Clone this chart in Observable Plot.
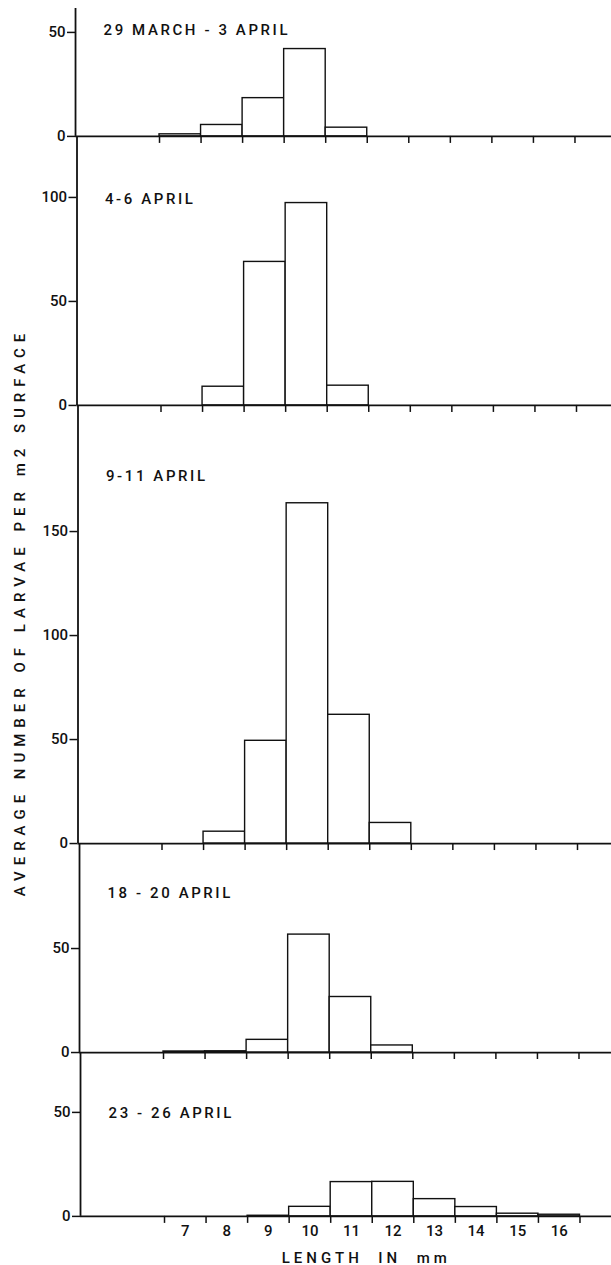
<!DOCTYPE html>
<html>
<head>
<meta charset="utf-8">
<script src="https://cdn.jsdelivr.net/npm/d3@7"></script>
<script src="https://cdn.jsdelivr.net/npm/@observablehq/plot@0.6"></script>
<style>
html, body { margin: 0; padding: 0; background: #fff; overflow: hidden; }
#chart { position: relative; width: 611px; height: 1265px; }
#chart svg { display: block; }
</style>
</head>
<body>
<div id="chart"></div>
<script>
// ---------- data ----------
const lengths = [7, 8, 9, 10, 11, 12, 13, 14, 15, 16];           // bin centres (mm)
const binEdges = [6.5, 7.5, 8.5, 9.5, 10.5, 11.5, 12.5, 13.5, 14.5, 15.5, 16.5];
const periods = ["29 MARCH - 3 APRIL", "4-6 APRIL", "9-11 APRIL", "18 - 20 APRIL", "23 - 26 APRIL"];
const march29_apr3 = [1, 5.5, 18.4, 42, 4.2, 0, 0, 0, 0, 0];
const apr4_6       = [0, 9, 69, 97.3, 9.5, 0, 0, 0, 0, 0];
const apr9_11      = [0, 5.7, 49.4, 163.6, 61.9, 9.9, 0, 0, 0, 0];
const apr18_20     = [0.5, 0.6, 6.1, 56.7, 26.7, 3.4, 0, 0, 0, 0];
const apr23_26     = [0, 0, 0.3, 4.6, 16.5, 16.6, 8.3, 4.5, 1.3, 0.8];
const yTicks = [[0, 50], [0, 50, 100], [0, 50, 100, 150], [0, 50], [0, 50]];
const yTop = [61.5, 129.3, 210.6, 100.5, 78.8];                    // top of each panel's axis
const xLabel = "LENGTH  IN  mm";
const yLabel = "AVERAGE NUMBER OF LARVAE PER m2 SURFACE";

const series = [march29_apr3, apr4_6, apr9_11, apr18_20, apr23_26];

// ---------- layout ----------
const W = 611, pxPerUnit = 2.08, pxPerMm = 41.55;
const axisX = 80, firstEdgeX = 164;
const skew = [-5, -3.5, -2.5, -1, 0];          // slight tilt of the scanned figure
const labelDy = [22, 63, 71, 50, 61];
const font = "Roboto, 'DejaVu Sans', sans-serif";
const ink = "#111";

const chart = document.getElementById("chart");

series.forEach((vals, i) => {
  const s = skew[i];
  const ml = axisX + s;
  const x0 = binEdges[0] - (firstEdgeX - axisX) / pxPerMm;
  const x1 = binEdges[0] + (W - firstEdgeX - s) / pxPerMm;
  const frameH = yTop[i] * pxPerUnit;
  const mt = i === 0 ? 8 : 0;
  const mb = i === series.length - 1 ? 49 : 8;
  const rows = lengths.map((len, j) => ({len, value: vals[j]})).filter(d => d.value > 0);

  const marks = [
    Plot.rect(rows, {x1: d => d.len - 0.5, x2: d => d.len + 0.5, y1: d => 0, y2: d => d.value,
      fill: "white", stroke: ink, strokeWidth: 1.4}),
    Plot.ruleY([0], {stroke: ink, strokeWidth: 1.8}),
    Plot.ruleX([x0], {stroke: ink, strokeWidth: 1.8}),
    Plot.text([periods[i]], {text: d => d, frameAnchor: "top-left", dx: 28, dy: labelDy[i],
      textAnchor: "start", lineAnchor: "middle", fontSize: 15, fontWeight: 500, fill: ink})
  ];

  if (i === 2) {
    marks.push(Plot.text([yLabel], {text: d => d, frameAnchor: "left", rotate: -90,
      textAnchor: "middle", lineAnchor: "middle",
      dx: 19.5 - ml, dy: -12.5, fontSize: 15, fontWeight: 500, fill: ink}));
  }
  if (i === series.length - 1) {
    marks.push(Plot.text(lengths, {x: d => d, text: d => String(d), frameAnchor: "bottom",
      dy: 15, lineAnchor: "middle", fontSize: 15, fontWeight: 500, fill: ink}));
    const mid = (binEdges[0] + binEdges[binEdges.length - 1]) / 2;
    marks.push(Plot.text([xLabel], {x: () => mid, text: d => d, frameAnchor: "bottom",
      dy: 42, dx: -6, lineAnchor: "middle", fontSize: 15, fontWeight: 500, fill: ink}));
  }

  const svg = Plot.plot({
    width: W,
    height: mt + frameH + mb,
    marginLeft: ml, marginRight: 0, marginTop: mt, marginBottom: mb,
    style: {fontFamily: font, fontSize: "15px", fontWeight: 500, background: "transparent", overflow: "visible", color: ink},
    x: {domain: [x0, x1], ticks: binEdges, tickSize: 7, tickFormat: () => "", label: null},
    y: {domain: [0, yTop[i]], ticks: yTicks[i], tickSize: 8, tickPadding: 2, tickFormat: d => String(d), label: null},
    marks
  });
  if (i > 0) svg.style.marginTop = `-${8}px`;

  d3.select(svg).selectAll('[aria-label^="x-axis"], [aria-label^="y-axis"]').attr("stroke-width", 1.5);
  d3.select(svg).selectAll("text").each(function () {
    const t = this.textContent;
    if (periods.includes(t)) this.setAttribute("letter-spacing", "2.6");
    else if (t === yLabel) this.setAttribute("letter-spacing", "6");
    else if (t === xLabel) this.setAttribute("letter-spacing", "4");
  });
  chart.appendChild(svg);
});
</script>
</body>
</html>
